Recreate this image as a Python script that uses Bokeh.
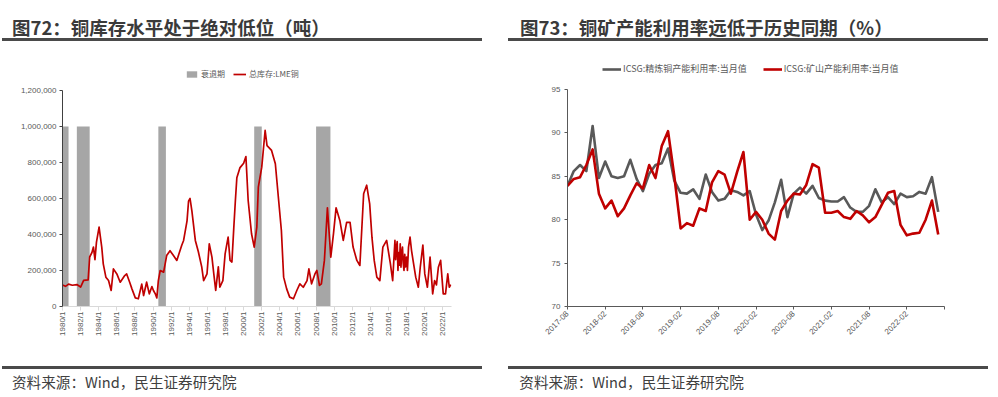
import math
from bokeh.plotting import figure
from bokeh.models import (Range1d, FixedTicker, NumeralTickFormatter, Legend,
                          LegendItem, ColumnDataSource, Div)
from bokeh.layouts import row, column
from bokeh.embed import file_html
from bokeh.resources import INLINE

# ---------------- data: chart 72 (LME copper stocks, tonnes) ----------------
lme_dates = [
    "1980-01-01", "1980-05-01", "1980-09-01", "1981-02-01", "1981-08-01", "1982-01-01",
    "1982-05-01", "1982-11-01", "1983-01-01", "1983-04-01", "1983-06-01", "1983-08-01",
    "1983-10-01", "1984-01-15", "1984-05-01", "1984-07-01", "1984-10-15", "1985-02-01",
    "1985-05-15", "1985-08-15", "1986-01-01", "1986-05-15", "1986-11-15", "1987-02-01",
    "1987-06-01", "1987-09-01", "1988-01-15", "1988-05-15", "1988-10-01", "1988-12-15",
    "1989-04-15", "1989-08-01", "1989-11-15", "1990-01-15", "1990-04-01", "1990-06-01",
    "1990-08-01", "1990-10-15", "1991-03-01", "1991-07-01", "1991-11-15", "1992-04-01",
    "1992-08-15", "1993-03-01", "1993-05-15", "1993-10-01", "1993-12-01", "1994-02-01",
    "1994-04-15", "1994-09-01", "1995-01-01", "1995-05-15", "1995-08-01", "1995-12-15",
    "1996-03-15", "1996-07-01", "1996-09-15", "1996-12-01", "1997-03-15", "1997-05-15",
    "1997-09-15", "1997-12-15", "1998-02-15", "1998-04-15", "1998-07-01", "1998-09-15",
    "1998-12-01", "1999-02-01", "1999-04-01", "1999-08-01", "2000-01-01", "2000-04-01",
    "2000-07-01", "2000-11-15", "2001-03-01", "2001-06-15", "2001-08-15", "2002-01-01",
    "2002-05-15", "2002-08-01", "2003-02-01", "2003-07-01", "2003-11-01", "2004-03-01",
    "2004-06-01", "2004-10-01", "2005-02-01", "2005-07-01", "2005-11-15", "2006-03-15",
    "2006-08-01", "2007-01-01", "2007-03-15", "2007-07-01", "2007-11-15", "2008-02-01",
    "2008-05-15", "2008-08-01", "2008-12-01", "2009-04-01", "2009-07-01", "2009-08-15",
    "2009-12-01", "2010-03-15", "2010-08-15", "2011-01-01", "2011-05-15", "2011-10-01",
    "2012-02-01", "2012-07-01", "2012-11-01", "2013-04-01", "2013-08-01", "2013-12-01",
    "2014-03-01", "2014-06-01", "2014-09-15", "2015-01-15", "2015-05-15", "2015-10-15",
    "2016-03-15", "2016-06-15", "2016-09-15", "2016-10-15", "2016-11-15", "2016-12-15",
    "2017-01-15", "2017-02-15", "2017-03-15", "2017-04-15", "2017-05-15", "2017-06-15",
    "2017-07-15", "2017-08-15", "2017-09-15", "2017-10-15", "2017-11-15", "2018-01-01",
    "2018-02-01", "2018-03-15", "2018-05-15", "2018-07-15", "2018-09-15", "2019-01-01",
    "2019-04-15", "2019-07-01", "2019-10-15", "2020-01-01", "2020-04-15", "2020-08-01",
    "2020-11-15", "2021-02-01", "2021-04-15", "2021-07-01", "2021-10-01", "2022-01-15",
    "2022-04-15", "2022-07-15", "2022-09-15", "2022-11-15",
]
lme_stock = [
    120000, 112000, 124000, 118000, 122000, 108000,
    145000, 148000, 275000, 300000, 330000, 260000,
    358000, 441000, 330000, 237000, 163000, 144000,
    89000, 209000, 181000, 135000, 172000, 181000,
    135000, 98000, 48000, 43000, 124000, 61000,
    135000, 70000, 111000, 89000, 70000, 48000,
    144000, 200000, 191000, 283000, 310000, 283000,
    256000, 340000, 367000, 476000, 585000, 600000,
    530000, 367000, 304000, 220000, 144000, 181000,
    348000, 274000, 181000, 89000, 220000, 107000,
    144000, 292000, 340000, 385000, 256000, 247000,
    441000, 585000, 715000, 770000, 796000, 833000,
    589000, 404000, 330000, 441000, 663000, 774000,
    978000, 894000, 867000, 793000, 607000, 422000,
    163000, 98000, 52000, 43000, 89000, 126000,
    107000, 144000, 209000, 126000, 181000, 200000,
    117000, 126000, 256000, 548000, 367000, 274000,
    404000, 548000, 478000, 367000, 467000, 467000,
    330000, 256000, 228000, 626000, 674000, 570000,
    385000, 256000, 163000, 144000, 330000, 367000,
    237000, 144000, 367000, 260000, 330000, 360000,
    200000, 300000, 230000, 348000, 218000, 300000,
    330000, 240000, 200000, 290000, 220000, 274000,
    200000, 330000, 385000, 311000, 256000, 163000,
    107000, 218000, 341000, 181000, 107000, 274000,
    70000, 144000, 120000, 218000, 256000, 70000,
    70000, 181000, 107000, 122000,
]
rec_start = ["1980-01-01", "1981-08-01", "1990-08-01", "2001-03-01", "2008-01-01"]
rec_end = ["1980-09-01", "1983-01-01", "1991-06-01", "2002-01-01", "2009-08-01"]
rec_level = [1000000, 1000000, 1000000, 1000000, 1000000]
y72_ticks = [0, 200000, 400000, 600000, 800000, 1000000, 1200000]
x72_years = list(range(1980, 2023, 2))
x72_labels = [f"{y}/1" for y in x72_years]

# ---------------- data: chart 73 (ICSG utilisation, %) ----------------
icsg_start = "2017-08"
refined_util = [
    83.9, 85.6, 86.3, 85.6, 90.8, 84.8, 86.7, 85.0, 84.8, 85.0,
    86.9, 84.7, 83.3, 85.3, 86.3, 86.5, 88.2, 84.5, 83.1, 83.0,
    83.5, 82.4, 85.2, 83.2, 82.2, 82.4, 83.4, 83.2, 82.8, 83.3,
    80.6, 78.8, 79.9, 82.0, 84.6, 80.3, 83.0, 83.7, 83.0, 83.9,
    82.5, 82.2, 82.1, 82.1, 82.6, 81.4, 80.9, 80.9, 81.6, 83.5,
    82.0, 82.6, 81.8, 83.0, 82.6, 82.7, 83.2, 83.0, 84.9, 80.9,
]
mine_util = [
    83.9, 84.7, 84.9, 86.3, 88.1, 83.0, 81.3, 82.2, 80.4, 81.3,
    82.8, 84.2, 83.6, 86.3, 84.8, 88.5, 90.2, 85.0, 79.0, 79.6,
    79.3, 81.3, 81.0, 84.3, 85.6, 85.2, 83.0, 85.5, 87.8, 80.0,
    80.9, 80.0, 78.4, 77.7, 81.0, 82.2, 83.0, 82.9, 84.0, 86.4,
    86.0, 80.8, 80.8, 81.0, 80.3, 80.1, 81.0, 80.5, 79.7, 80.3,
    81.7, 83.1, 83.3, 79.4, 78.2, 78.4, 78.5, 80.0, 82.2, 78.3,
]
x73_labels = ["2017-08", "2018-02", "2018-08", "2019-02", "2019-08",
              "2020-02", "2020-08", "2021-02", "2021-08", "2022-02"]
y73_ticks = [70, 75, 80, 85, 90, 95]

title72 = "图72：铜库存水平处于绝对低位（吨）"
title73 = "图73：铜矿产能利用率远低于历史同期（%）"
source_text = "资料来源：Wind，民生证券研究院"

# ---------------- helpers ----------------
CJK = "Noto Sans CJK SC"
NUM = "Liberation Sans"
LABEL_C = "#595959"
DARK = "#404040"
RULE = "#4a4a4a"
W = 499          # width of each panel
TOP_H = 41       # title strip
FH = 319         # figure strip
BOT_H = 37       # source strip
MB_TOP = 5       # frame starts 5px under the title strip
MB_BOT = 54      # room for x labels
AXIS_PX = 216    # pixel height of the value axis


def frac_year(s):
    y, m, d = (int(v) for v in s.split("-"))
    return y + (m - 1) / 12 + (d - 1) / 365


def month_index(s, start):
    y, m = (int(v) for v in s.split("-"))
    y0, m0 = (int(v) for v in start.split("-"))
    return (y - y0) * 12 + (m - m0)


def title_div(text, text_left, line_left):
    html = (
        f'<div style="position:relative;width:{W}px;height:{TOP_H}px;">'
        f'<div style="position:absolute;left:{text_left}px;top:16px;'
        f"font-family:'{CJK}';font-size:18.5px;font-weight:bold;color:#3a3a3a;"
        f'line-height:23px;white-space:nowrap;">{text}</div>'
        f'<div style="position:absolute;left:{line_left}px;top:38.3px;width:480px;'
        f'height:2.5px;background:{RULE};"></div></div>'
    )
    return Div(text=html, width=W, height=TOP_H, margin=0)


def source_div(text_left, line_left):
    html = (
        f'<div style="position:relative;width:{W}px;height:{BOT_H}px;">'
        f'<div style="position:absolute;left:{line_left}px;top:5.7px;width:480px;'
        f'height:3px;background:{RULE};"></div>'
        f'<div style="position:absolute;left:{text_left}px;top:12px;'
        f"font-family:'{CJK}';font-size:14.6px;color:#404040;"
        f'line-height:20px;white-space:nowrap;">{source_text}</div></div>'
    )
    return Div(text=html, width=W, height=BOT_H, margin=0)


def style_axes(p):
    p.outline_line_color = None
    p.xgrid.visible = False
    p.ygrid.visible = False
    for ax in (p.xaxis[0], p.yaxis[0]):
        ax.minor_tick_line_color = None
        ax.major_tick_in = 0
        ax.major_label_text_color = LABEL_C
        ax.major_label_text_font = NUM
        ax.major_label_text_font_size = "8px"


frame_h = FH - MB_TOP - MB_BOT

# ---------------- chart 72 ----------------
y72_max = y72_ticks[-1]
p1 = figure(width=W, height=FH, x_range=Range1d(1980, 2022.95),
            y_range=Range1d(0, y72_max * frame_h / AXIS_PX),
            output_backend="svg", toolbar_location=None,
            min_border_left=62, min_border_right=48,
            min_border_top=MB_TOP, min_border_bottom=MB_BOT)
style_axes(p1)
rec_src = ColumnDataSource(dict(l=[frac_year(s) for s in rec_start],
                                r=[frac_year(s) for s in rec_end], t=rec_level))
rec = p1.quad(left="l", right="r", bottom=0, top="t", source=rec_src,
              fill_color="#A6A6A6", line_color=None)
lme_src = ColumnDataSource(dict(x=[frac_year(s) for s in lme_dates], y=lme_stock))
ln = p1.line("x", "y", source=lme_src, line_color="#C00000", line_width=1.7, line_join="round")

p1.yaxis.ticker = FixedTicker(ticks=y72_ticks)
p1.yaxis.bounds = (0, y72_max)
p1.yaxis.formatter = NumeralTickFormatter(format="0,0")
p1.yaxis.axis_line_color = DARK
p1.yaxis.major_tick_line_color = DARK
p1.yaxis.major_tick_out = 3
p1.yaxis.major_label_standoff = 3
p1.xaxis.ticker = FixedTicker(ticks=x72_years)
p1.xaxis.major_label_overrides = {y: lab for y, lab in zip(x72_years, x72_labels)}
p1.xaxis.major_label_orientation = math.pi / 2
p1.xaxis.axis_line_color = "#D9D9D9"
p1.xaxis.major_tick_line_color = "#D9D9D9"
p1.xaxis.major_tick_out = 4
p1.xaxis.major_label_standoff = 1

leg1 = Legend(items=[LegendItem(label="衰退期", renderers=[rec]),
                     LegendItem(label="总库存:LME铜", renderers=[ln])],
              orientation="horizontal", location=(123, 227),
              padding=0, margin=0, spacing=8, label_standoff=3,
              glyph_width=13, glyph_height=8, label_height=10,
              label_text_font=CJK, label_text_font_size="8px", label_text_color=LABEL_C,
              border_line_color=None, background_fill_alpha=0)
p1.add_layout(leg1)

# ---------------- chart 73 ----------------
y73_min, y73_max = y73_ticks[0], y73_ticks[-1]
p2 = figure(width=W, height=FH, x_range=Range1d(0, 60),
            y_range=Range1d(y73_min, y73_min + (y73_max - y73_min) * frame_h / 217),
            output_backend="svg", toolbar_location=None,
            min_border_left=68, min_border_right=54,
            min_border_top=MB_TOP, min_border_bottom=MB_BOT)
style_axes(p2)
xs = list(range(len(refined_util)))
g = p2.line(xs, refined_util, line_color="#595959", line_width=2.6, line_join="round")
r = p2.line(xs, mine_util, line_color="#C00000", line_width=2.6, line_join="round")

x73_ticks = [month_index(s, icsg_start) for s in x73_labels]
p2.xaxis.ticker = FixedTicker(ticks=x73_ticks + [60])
ov = {t: lab for t, lab in zip(x73_ticks, x73_labels)}
ov[60] = ""
p2.xaxis.major_label_overrides = ov
p2.xaxis.major_label_orientation = math.pi / 4
p2.xaxis.axis_line_color = "#595959"
p2.xaxis.major_tick_line_color = "#595959"
p2.xaxis.major_tick_out = 3
p2.xaxis.major_label_standoff = 3
p2.yaxis.ticker = FixedTicker(ticks=y73_ticks)
p2.yaxis.bounds = (y73_min, y73_max)
p2.yaxis.axis_line_color = "#595959"
p2.yaxis.major_tick_line_color = "#595959"
p2.yaxis.major_tick_out = 3
p2.yaxis.major_label_standoff = 4

leg2 = Legend(items=[LegendItem(label="ICSG:精炼铜产能利用率:当月值", renderers=[g]),
                     LegendItem(label="ICSG:矿山产能利用率:当月值", renderers=[r])],
              orientation="horizontal", location=(35, 231),
              padding=0, margin=0, spacing=16, label_standoff=2,
              glyph_width=19, glyph_height=8, label_height=10,
              label_text_font=CJK, label_text_font_size="9px", label_text_color=LABEL_C,
              border_line_color=None, background_fill_alpha=0)
p2.add_layout(leg2)

layout = column(
    row(title_div(title72, 12, 1.7), title_div(title73, 21, 9.3), spacing=0),
    row(p1, p2, spacing=0),
    row(source_div(12, 1.7), source_div(20.3, 9.3), spacing=0),
    spacing=0,
)
open("out.html", "w").write(file_html(layout, INLINE))
